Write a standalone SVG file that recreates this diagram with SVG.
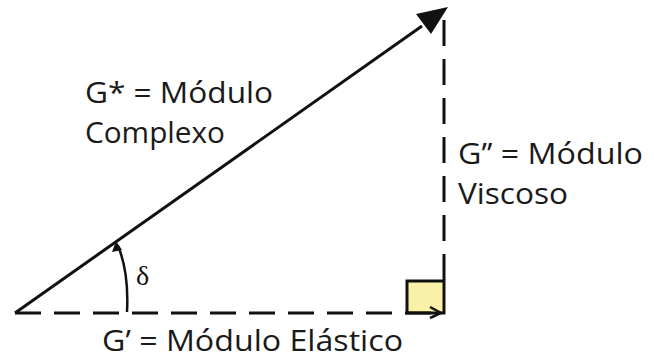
<svg xmlns="http://www.w3.org/2000/svg" width="654" height="361" viewBox="0 0 654 361">
<defs>
<style>
.lbl{font-family:"Open Sans","Liberation Sans",sans-serif;font-size:29px;fill:#1a1a1a}
.dash{stroke:#111;stroke-width:3;stroke-dasharray:26 13;fill:none}
</style>
</defs>
<rect width="654" height="361" fill="#fff"/>
<g id="square"><rect x="407" y="281" width="37" height="32" fill="#faf1a9" stroke="#111" stroke-width="3"/></g>
<g id="connectors">
<line x1="15" y1="313" x2="422" y2="26" stroke="#111" stroke-width="3"/>
<path d="M448,7 L416,14 L431,34 z" fill="#111"/>
<line class="dash" x1="444" y1="20" x2="444" y2="281"/>
<line class="dash" x1="15" y1="313" x2="441" y2="313"/>
<path d="M430,307 L441,313 L430,318" fill="none" stroke="#111" stroke-width="2.5"/>
<path d="M127,312 Q129,272 118,246" fill="none" stroke="#111" stroke-width="2.5"/>
<path d="M116,241 L112,252 L122,250 z" fill="#111"/>
</g>
<g id="delta"><text x="136" y="285" font-family="'Liberation Serif',serif" font-size="28" fill="#111">δ</text></g>
<g id="gstar"><text class="lbl" x="85" y="103" textLength="188" lengthAdjust="spacingAndGlyphs">G* = Módulo</text><text class="lbl" x="85" y="143" textLength="140" lengthAdjust="spacingAndGlyphs">Complexo</text></g>
<g id="g2"><text class="lbl" x="458" y="164" textLength="185" lengthAdjust="spacingAndGlyphs">G’’ = Módulo</text><text class="lbl" x="458" y="204" textLength="110" lengthAdjust="spacingAndGlyphs">Viscoso</text></g>
<g id="g1"><text class="lbl" x="102" y="351" textLength="301" lengthAdjust="spacingAndGlyphs">G’ = Módulo Elástico</text></g>
</svg>
